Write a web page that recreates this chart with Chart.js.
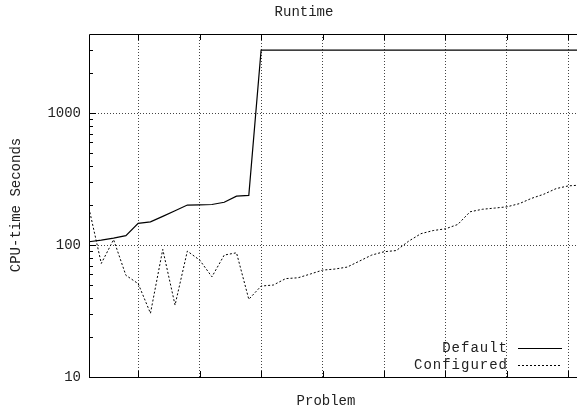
<!DOCTYPE html>
<html>
<head>
<meta charset="utf-8">
<script src="https://cdn.jsdelivr.net/npm/chart.js@4"></script>
<style>
  html, body { margin: 0; padding: 0; background: #fff; overflow: hidden; }
  #wrap { width: 593px; height: 410px; position: relative; }
</style>
</head>
<body>
<div id="wrap"><canvas id="chart"></canvas></div>
<script>
// 데이터
const problems = [];
for (let i = 1; i <= 41; i++) problems.push(i);

const defaultTimes = [106, 109, 113, 118, 146, 150, 165, 182, 201, 202, 203, 211, 235, 238,
  3000, 3000, 3000, 3000, 3000, 3000, 3000, 3000, 3000, 3000, 3000, 3000, 3000, 3000,
  3000, 3000, 3000, 3000, 3000, 3000, 3000, 3000, 3000, 3000, 3000, 3000, 3000];

const configuredTimes = [190, 72.6, 110, 59, 51, 30.4, 92.7, 35.1, 90, 77, 57.5, 84, 87.4, 38.8,
  48.9, 49.8, 55.7, 56.5, 60.3, 64.6, 65.8, 68.1, 75.6, 84, 89, 90.9, 107, 122,
  128.9, 132.8, 143.3, 178.8, 186.8, 190.7, 195, 206, 226, 243, 268, 281, 285];

const yTicks = [10, 100, 1000];
const yMinorTicks = [20, 30, 40, 50, 60, 70, 80, 90, 200, 300, 400, 500, 600, 700, 800, 900, 2000, 3000];
const xTicks = [5, 10, 15, 20, 25, 30, 35, 40];

const FONT = 'Liberation Mono, DejaVu Sans Mono, monospace';
const TEXT = '#222';

// gnuplot 스타일 테두리, 눈금, 범례, 제목
const gnuplotDecor = {
    id: 'gnuplotDecor',
    afterDraw(chart) {
        const ctx = chart.ctx;
        const a = chart.chartArea;
        const xs = chart.scales.x;
        const ys = chart.scales.y;
        ctx.save();
        ctx.strokeStyle = '#000';
        ctx.lineWidth = 1;
        ctx.setLineDash([]);

        // 테두리 (왼쪽, 위, 아래)
        ctx.beginPath();
        ctx.moveTo(a.right, Math.round(a.top) + 0.5);
        ctx.lineTo(Math.round(a.left) + 0.5, Math.round(a.top) + 0.5);
        ctx.lineTo(Math.round(a.left) + 0.5, Math.round(a.bottom) + 0.5);
        ctx.lineTo(a.right, Math.round(a.bottom) + 0.5);
        ctx.stroke();

        // x 눈금 표시
        ctx.beginPath();
        xTicks.forEach(v => {
            const x = Math.round(xs.getPixelForValue(v)) + 0.5;
            ctx.moveTo(x, a.bottom);
            ctx.lineTo(x, a.bottom - 6);
            ctx.moveTo(x, a.top);
            ctx.lineTo(x, a.top + 6);
        });
        // y 눈금 표시
        yTicks.forEach(v => {
            const y = Math.round(ys.getPixelForValue(v)) + 0.5;
            ctx.moveTo(a.left, y);
            ctx.lineTo(a.left + 7, y);
        });
        yMinorTicks.forEach(v => {
            const y = Math.round(ys.getPixelForValue(v)) + 0.5;
            ctx.moveTo(a.left, y);
            ctx.lineTo(a.left + 4, y);
        });
        ctx.stroke();

        // 제목과 축 이름
        ctx.fillStyle = TEXT;
        ctx.font = '14px ' + FONT;
        ctx.textAlign = 'center';
        ctx.textBaseline = 'middle';
        ctx.fillText('Runtime', 304, 12);
        ctx.fillText('Problem', 326, 401);
        ctx.save();
        ctx.translate(16, 205);
        ctx.rotate(-Math.PI / 2);
        ctx.fillText('CPU-time Seconds', 0, 0);
        ctx.restore();

        // 범례
        ctx.save();
        ctx.textAlign = 'right';
        ctx.letterSpacing = '1px';
        ctx.fillText('Default', 508, 348);
        ctx.fillText('Configured', 508, 365);
        ctx.restore();
        ctx.strokeStyle = '#000';
        ctx.lineWidth = 1.2;
        ctx.beginPath();
        ctx.moveTo(518, 348.5);
        ctx.lineTo(562, 348.5);
        ctx.stroke();
        ctx.setLineDash([2, 2]);
        ctx.lineWidth = 1;
        ctx.beginPath();
        ctx.moveTo(518, 365.5);
        ctx.lineTo(562, 365.5);
        ctx.stroke();
        ctx.restore();
    }
};

new Chart(document.getElementById('chart'), {
    type: 'line',
    data: {
        datasets: [
            {
                label: 'Default',
                data: problems.map((p, i) => ({ x: p, y: defaultTimes[i] })),
                borderColor: '#000',
                borderWidth: 1.2,
                pointRadius: 0,
                tension: 0
            },
            {
                label: 'Configured',
                data: problems.map((p, i) => ({ x: p, y: configuredTimes[i] })),
                borderColor: '#000',
                borderWidth: 1,
                borderDash: [2, 2],
                pointRadius: 0,
                tension: 0
            }
        ]
    },
    options: {
        responsive: true,
        maintainAspectRatio: false,
        animation: false,
        layout: { padding: { top: 34, right: 0, bottom: 0, left: 0 } },
        plugins: {
            legend: { display: false },
            title: { display: false },
            tooltip: { enabled: false }
        },
        scales: {
            x: {
                type: 'linear',
                min: 1,
                max: 42,
                afterBuildTicks: s => { s.ticks = xTicks.map(v => ({ value: v })); },
                afterFit: s => { s.height = 33; },
                ticks: { display: false },
                border: { display: false, dash: [1, 2] },
                grid: {
                    color: '#444',
                    lineWidth: 1,
                    drawTicks: false
                }
            },
            y: {
                type: 'logarithmic',
                min: 10,
                max: Math.pow(10, 3.6),
                afterBuildTicks: s => { s.ticks = yTicks.map(v => ({ value: v })); },
                afterFit: s => { s.width = 89; },
                ticks: {
                    color: TEXT,
                    font: { family: FONT, size: 14 },
                    padding: 8,
                    callback: v => String(v)
                },
                border: { display: false, dash: [1, 2] },
                grid: {
                    color: '#444',
                    lineWidth: 1,
                    drawTicks: false
                }
            }
        }
    },
    plugins: [gnuplotDecor]
});
</script>
</body>
</html>
